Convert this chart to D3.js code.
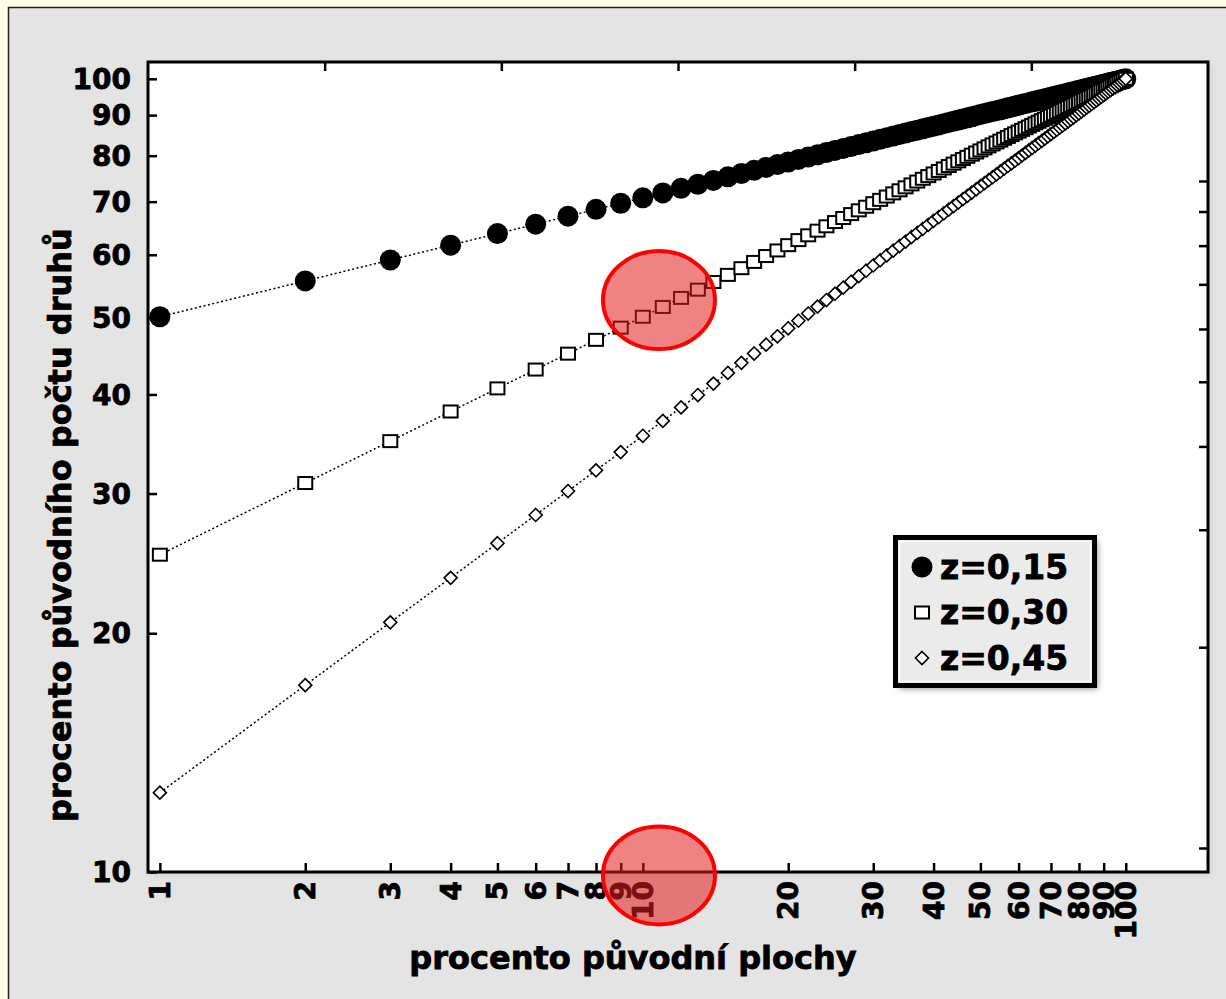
<!DOCTYPE html>
<html>
<head>
<meta charset="utf-8">
<script src="https://cdn.jsdelivr.net/npm/d3@7"></script>
<style>
  body { margin: 0; background: #fffee6; }
  svg { display: block; }
  text { font-family: "DejaVu Sans", sans-serif; font-weight: bold; fill: #000; }
</style>
</head>
<body>
<div id="chart"></div>
<script>
// procento původní plochy (osa x)
const plocha = [1,2,3,4,5,6,7,8,9,10,11,12,13,14,15,16,17,18,19,20,
  21,22,23,24,25,26,27,28,29,30,31,32,33,34,35,36,37,38,39,40,
  41,42,43,44,45,46,47,48,49,50,51,52,53,54,55,56,57,58,59,60,
  61,62,63,64,65,66,67,68,69,70,71,72,73,74,75,76,77,78,79,80,
  81,82,83,84,85,86,87,88,89,90,91,92,93,94,95,96,97,98,99,100];

// procento původního počtu druhů pro jednotlivá z
const z015 = [50.12,55.61,59.10,61.70,63.80,65.57,67.11,68.46,69.68,70.79,71.81,72.76,73.64,74.46,75.23,75.97,76.66,77.32,77.95,78.55,
  79.13,79.68,80.22,80.73,81.23,81.71,82.17,82.62,83.05,83.48,83.89,84.29,84.68,85.06,85.43,85.79,86.15,86.49,86.83,87.16,
  87.48,87.80,88.11,88.41,88.71,89.01,89.29,89.58,89.85,90.13,90.39,90.66,90.92,91.17,91.42,91.67,91.91,92.15,92.39,92.62,
  92.85,93.08,93.30,93.53,93.74,93.96,94.17,94.38,94.59,94.79,94.99,95.19,95.39,95.58,95.78,95.97,96.16,96.34,96.53,96.71,
  96.89,97.07,97.24,97.42,97.59,97.76,97.93,98.10,98.27,98.43,98.60,98.76,98.92,99.08,99.23,99.39,99.54,99.70,99.85,100];
const z030 = [25.12,30.93,34.93,38.07,40.71,43.00,45.03,46.87,48.56,50.12,51.57,52.94,54.22,55.44,56.60,57.71,58.77,59.78,60.76,61.70,
  62.61,63.49,64.35,65.17,65.98,66.76,67.52,68.26,68.98,69.69,70.37,71.05,71.71,72.35,72.98,73.60,74.21,74.81,75.39,75.97,
  76.53,77.09,77.63,78.17,78.70,79.22,79.73,80.24,80.74,81.23,81.71,82.19,82.66,83.12,83.58,84.04,84.48,84.93,85.36,85.79,
  86.22,86.64,87.06,87.47,87.88,88.28,88.68,89.08,89.47,89.85,90.24,90.62,90.99,91.36,91.73,92.10,92.46,92.82,93.17,93.53,
  93.88,94.22,94.56,94.90,95.24,95.58,95.91,96.24,96.57,96.89,97.21,97.53,97.85,98.16,98.47,98.79,99.09,99.40,99.70,100];
const z045 = [12.59,17.20,20.64,23.49,25.97,28.19,30.22,32.09,33.84,35.48,37.04,38.52,39.93,41.28,42.58,43.84,45.05,46.22,47.36,48.47,
  49.55,50.59,51.62,52.61,53.59,54.54,55.48,56.39,57.29,58.17,59.04,59.89,60.72,61.54,62.35,63.15,63.93,64.70,65.46,66.21,
  66.95,67.68,68.40,69.11,69.81,70.51,71.20,71.87,72.54,73.21,73.86,74.51,75.15,75.78,76.41,77.04,77.65,78.26,78.87,79.46,
  80.06,80.65,81.23,81.81,82.38,82.95,83.51,84.07,84.62,85.17,85.72,86.26,86.80,87.33,87.86,88.38,88.90,89.42,89.94,90.45,
  90.95,91.46,91.96,92.45,92.95,93.44,93.93,94.41,94.89,95.37,95.85,96.32,96.79,97.26,97.72,98.18,98.64,99.10,99.55,100];

const xTicks = [1,2,3,4,5,6,7,8,9,10,20,30,40,50,60,70,80,90,100];
const yTicks = [10,20,30,40,50,60,70,80,90,100];
const legendLabels = ["z=0,15", "z=0,30", "z=0,45"];
const xTitle = "procento původní plochy";
const yTitle = "procento původního počtu druhů";
// červené zvýraznění (plocha, počet druhů)
const marks = [[10.8, 52.6], [10.8, 9.9]];

const W = 1226, H = 999;
const L = 148, T = 62, R = 1208, B = 872;

const svg = d3.select("#chart").append("svg")
  .attr("width", W).attr("height", H);

const defs = svg.append("defs");
defs.append("filter").attr("id", "shadow")
  .append("feGaussianBlur").attr("stdDeviation", 3);

// pozadí
svg.append("rect").attr("width", W).attr("height", H).attr("fill", "#fffee6");
svg.append("rect")
  .attr("x", 8.5).attr("y", 7.5).attr("width", W + 10).attr("height", H + 10)
  .attr("fill", "#e4e4e4").attr("stroke", "#222").attr("stroke-width", 1.5);

// měřítka
const x = d3.scaleLog().domain([0.945, 148]).range([L, R]);
const y = d3.scaleLog().domain([10, 105]).range([B, T]);
// vedlejší osy (nahoře a vpravo), jak je kreslí Statistica
const xTop = d3.scaleLinear().domain([0, 6]).range([L, R]);
const yRight = d3.scaleLog().domain([1, 10]).range([848, 181]);

// plocha grafu
svg.append("rect").attr("x", L + 2).attr("y", T + 2).attr("width", R - L).attr("height", B - T)
  .attr("fill", "#c8c8c8").attr("filter", "url(#shadow)");
svg.append("rect").attr("x", L).attr("y", T).attr("width", R - L).attr("height", B - T)
  .attr("fill", "#fff");

// osy
const tickLen = 9;
const axisB = svg.append("g").attr("transform", `translate(0,${B})`)
  .call(d3.axisBottom(x).tickValues(xTicks).tickSizeInner(-tickLen).tickSizeOuter(0).tickFormat(""));
const axisL = svg.append("g").attr("transform", `translate(${L},0)`)
  .call(d3.axisLeft(y).tickValues(yTicks).tickSizeInner(-tickLen).tickSizeOuter(0).tickFormat(""));
const axisT = svg.append("g").attr("transform", `translate(0,${T})`)
  .call(d3.axisTop(xTop).tickValues([1, 2, 3, 4, 5]).tickSizeInner(-tickLen).tickSizeOuter(0).tickFormat(""));
const axisR = svg.append("g").attr("transform", `translate(${R},0)`)
  .call(d3.axisRight(yRight).tickValues([1, 2, 3, 4, 5, 6, 7, 8, 9, 10]).tickSizeInner(-tickLen).tickSizeOuter(0).tickFormat(""));
[axisB, axisL, axisT, axisR].forEach(g => {
  g.select(".domain").remove();
  g.selectAll(".tick line").attr("stroke", "#000").attr("stroke-width", 2.5);
});

svg.append("rect").attr("x", L).attr("y", T).attr("width", R - L).attr("height", B - T)
  .attr("fill", "none").attr("stroke", "#000").attr("stroke-width", 3);

// popisky os
svg.append("g").selectAll("text")
  .data(yTicks).enter().append("text")
  .attr("x", 131).attr("y", d => y(d)).attr("dy", "0.36em")
  .attr("text-anchor", "end").attr("font-size", 28)
  .attr("stroke", "#000").attr("stroke-width", 0.8)
  .text(d => d);

svg.append("g").selectAll("text")
  .data(xTicks).enter().append("text")
  .attr("transform", d => `translate(${x(d) + 10},${B + 9}) rotate(-90)`)
  .attr("text-anchor", "end").attr("font-size", 28)
  .attr("stroke", "#000").attr("stroke-width", 0.8)
  .text(d => d);

svg.append("text")
  .attr("x", 633).attr("y", 969).attr("text-anchor", "middle")
  .attr("font-size", 32).attr("stroke", "#000").attr("stroke-width", 0.8)
  .text(xTitle);

svg.append("text")
  .attr("transform", "translate(71,525) rotate(-90)").attr("text-anchor", "middle")
  .attr("font-size", 32).attr("stroke", "#000").attr("stroke-width", 0.8)
  .text(yTitle);

// data
const series = [
  { key: "z015", values: z015, shape: "circle" },
  { key: "z030", values: z030, shape: "square" },
  { key: "z045", values: z045, shape: "diamond" }
];

const line = d3.line().x(d => x(d[0])).y(d => y(d[1]));
const plot = svg.append("g");

series.forEach(s => {
  plot.append("path")
    .datum(plocha.map((a, i) => [a, s.values[i]]))
    .attr("d", line)
    .attr("fill", "none").attr("stroke", "#000")
    .attr("stroke-width", 1.5).attr("stroke-dasharray", "2,2.5");
});

function drawMarker(g, shape) {
  if (shape === "circle") {
    g.append("circle").attr("r", 10.5).attr("fill", "#000");
  } else if (shape === "square") {
    g.append("rect").attr("x", -7).attr("y", -6).attr("width", 14).attr("height", 12)
      .attr("fill", "#fff").attr("stroke", "#000").attr("stroke-width", 2);
  } else {
    g.append("path").attr("d", "M0,-6.5L6.5,0L0,6.5L-6.5,0Z")
      .attr("fill", "#fff").attr("stroke", "#000").attr("stroke-width", 1.6);
  }
}

series.forEach(s => {
  plot.append("g").selectAll("g")
    .data(plocha.map((a, i) => [a, s.values[i]]))
    .enter().append("g")
    .attr("transform", d => `translate(${x(d[0])},${y(d[1])})`)
    .each(function () { drawMarker(d3.select(this), s.shape); });
});

// legenda
const lg = svg.append("g");
lg.append("rect").attr("x", 899).attr("y", 541).attr("width", 199).attr("height", 148)
  .attr("fill", "#999").attr("filter", "url(#shadow)");
lg.append("rect").attr("x", 895.5).attr("y", 537.5).attr("width", 199).attr("height", 148)
  .attr("fill", "#ebebeb").attr("stroke", "#000").attr("stroke-width", 5);
lg.append("rect").attr("x", 899.5).attr("y", 541.5).attr("width", 191).attr("height", 140)
  .attr("fill", "none").attr("stroke", "#fff").attr("stroke-width", 1.2);
const rowY = d3.scalePoint().domain(legendLabels).range([567, 658]);
legendLabels.forEach((lab, i) => {
  const g = lg.append("g").attr("transform", `translate(922,${rowY(lab)})`);
  drawMarker(g, series[i].shape);
  lg.append("text").attr("x", 940).attr("y", rowY(lab)).attr("dy", "0.36em")
    .attr("font-size", 33).attr("stroke", "#000").attr("stroke-width", 0.8)
    .text(lab);
});

svg.append("g").selectAll("ellipse")
  .data(marks).enter().append("ellipse")
  .attr("cx", d => x(d[0])).attr("cy", d => y(d[1]))
  .attr("rx", 56).attr("ry", 49)
  .attr("fill", "rgba(225,30,30,0.55)").attr("stroke", "#f00").attr("stroke-width", 4);
</script>
</body>
</html>
